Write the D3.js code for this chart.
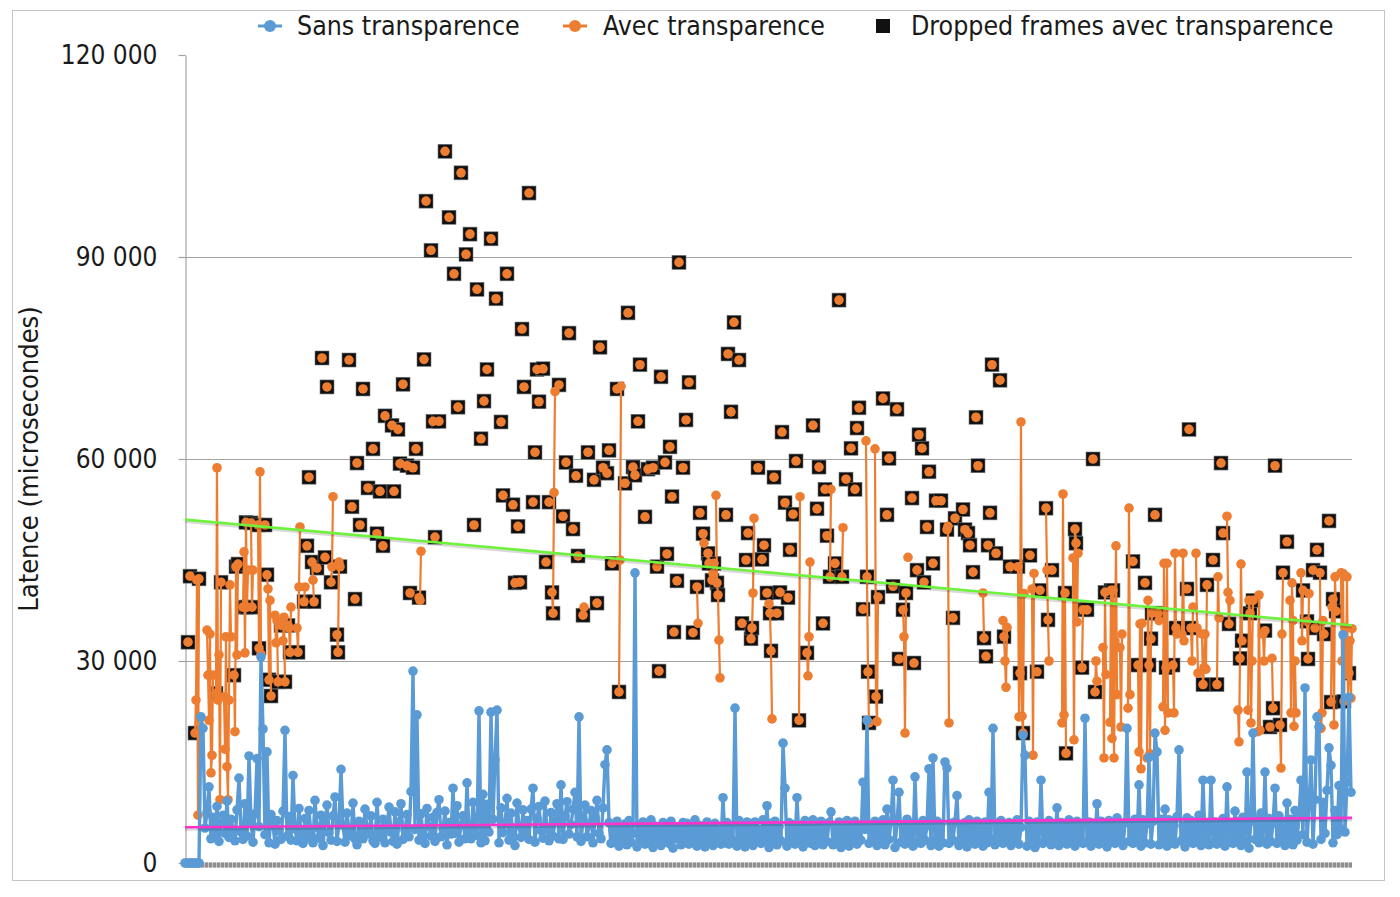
<!DOCTYPE html>
<html>
<head>
<meta charset="utf-8">
<script src="https://d3js.org/d3.v7.min.js"></script>
<style>
  body { margin: 0; background: #fff; }
  text { font-family: "DejaVu Sans Condensed", "DejaVu Sans", sans-serif; font-stretch: condensed; fill: #1a1a1a; }
</style>
</head>
<body>
<script>
// latency values are in milliseconds (x 1000 = microseconds)
var frameCount = 1167;

// "Sans transparence": one sample every 2 frames
var sansTransparence = [
  0,0,0,0,0,0,0,0,21.7,20.0,5.2,7.5,11.3,3.6,6.8,4.1,8.4,3.2,5.9,7.1,
  4.4,9.2,3.8,6.5,5.0,3.3,7.9,12.6,4.6,3.5,8.8,4.0,15.9,6.2,3.1,7.3,15.5,5.4,30.6,19.9,
  4.2,16.5,3.0,7.2,5.6,2.8,6.3,4.8,3.5,7.7,19.7,4.0,6.9,3.4,13.0,5.1,3.3,8.1,4.5,2.9,
  6.6,3.7,7.8,4.2,3.0,9.3,5.3,3.7,7.1,2.6,6.0,8.6,4.5,3.4,7.0,9.8,3.2,5.8,13.9,5.6,
  3.1,7.4,4.9,4.0,8.9,3.6,2.7,6.2,4.4,3.6,8.0,5.2,4.3,7.0,3.3,2.9,9.0,4.7,3.8,6.5,
  3.0,5.5,8.3,4.6,3.2,7.6,2.8,6.1,8.8,3.5,4.9,7.2,3.9,10.6,28.5,5.0,22.0,3.4,7.3,4.1,
  2.9,8.1,5.4,4.0,6.8,3.2,7.5,9.4,3.9,5.1,7.7,2.7,6.0,4.3,11.1,4.4,8.5,3.1,5.6,7.0,
  3.6,11.9,4.8,3.6,9.0,5.3,4.1,22.6,3.0,10.2,3.3,8.7,4.6,22.4,6.5,15.3,22.7,3.0,8.2,4.5,
  5.8,9.6,3.4,7.4,4.0,2.6,8.9,5.5,3.8,7.9,4.2,6.3,3.5,8.0,11.1,3.1,6.6,8.4,4.8,3.7,
  9.2,5.0,3.3,7.5,4.0,6.2,8.8,3.6,11.6,3.5,7.0,9.1,4.3,5.7,8.0,10.5,3.9,21.7,3.2,6.4,
  8.6,3.9,5.5,7.8,3.0,6.7,9.3,4.4,3.6,8.2,14.6,16.8,
  6.0,2.9,5.4,3.3,6.2,2.5,5.0,3.6,5.8,2.7,6.3,3.1,4.4,43.1,2.4,5.7,3.4,6.1,2.8,5.2,
  3.0,6.4,2.3,5.5,3.5,4.9,2.6,6.0,3.2,5.5,2.9,6.2,2.2,5.3,3.6,5.1,2.7,6.0,3.0,5.9,
  2.8,5.4,3.3,6.4,2.5,5.6,3.1,5.3,2.4,6.1,3.4,5.6,2.6,5.9,3.2,5.0,2.8,9.7,3.0,6.0,
  2.8,5.5,3.3,23.0,2.5,6.3,3.1,5.3,2.4,6.1,3.4,5.6,2.6,6.1,3.2,5.0,2.9,6.4,3.5,8.5,
  2.3,5.9,3.0,6.2,2.7,5.4,3.3,17.8,11.1,2.5,6.0,3.1,5.7,2.8,9.7,3.4,5.2,2.4,6.3,3.0,
  5.8,2.9,6.4,2.6,5.5,3.6,6.2,2.7,5.8,3.2,6.0,7.6,2.7,5.5,3.5,6.1,2.3,5.9,3.0,6.3,
  2.5,5.6,3.1,6.2,2.8,5.3,3.4,12.0,5.0,21.2,2.9,5.5,3.6,6.2,2.6,5.8,3.2,6.4,2.7,8.0,
  3.5,6.1,12.3,2.3,6.0,10.5,3.1,5.6,2.8,6.5,3.3,5.9,2.5,12.8,3.0,5.7,2.9,6.3,3.4,5.5,
  14.0,2.6,15.6,3.3,6.2,2.5,5.8,3.0,15.0,14.1,2.9,5.9,3.4,6.1,10.0,2.6,5.6,3.2,6.0,2.4,
  6.4,3.1,5.8,2.8,6.2,3.3,5.4,2.5,6.1,3.0,10.5,3.6,20.0,2.7,5.9,3.2,6.3,2.9,5.5,3.4,
  6.0,2.6,5.7,3.1,6.4,2.8,5.3,19.0,16.0,2.5,6.2,3.5,5.6,2.3,6.1,3.0,12.3,2.9,5.8,3.4,
  6.3,2.7,5.5,3.2,8.2,2.6,6.0,3.4,5.6,2.8,6.4,3.1,5.9,2.5,6.2,3.3,5.4,2.9,21.5,3.2,
  6.1,2.5,5.9,3.3,8.8,2.8,6.2,3.6,5.3,2.4,6.3,3.1,5.7,2.9,6.7,3.5,5.6,2.6,6.0,20.0,
  3.2,5.8,2.9,6.5,3.4,11.6,2.5,6.4,3.0,5.8,15.7,2.8,6.2,19.3,16.5,2.7,6.5,3.4,8.0,2.5,
  6.4,3.0,5.8,2.8,6.9,16.8,3.3,5.5,2.4,6.7,3.6,6.3,2.9,5.7,3.1,7.1,2.6,12.3,3.5,5.9,
  2.7,12.3,3.0,6.1,2.8,5.9,3.4,6.6,2.5,11.3,3.2,5.9,2.9,7.7,3.6,6.2,2.6,6.8,3.1,13.5,
  2.2,6.2,19.3,3.5,6.5,3.0,7.4,3.3,13.5,2.8,6.6,3.2,5.9,11.1,2.9,7.0,3.6,6.2,2.6,8.9,
  3.1,6.5,2.7,7.8,3.4,6.9,12.3,4.2,26.0,3.1,8.6,15.3,2.8,9.4,21.7,20.2,3.5,9.0,4.4,10.8,
  17.1,14.5,3.0,7.8,4.2,11.5,5.0,33.9,4.6,12.0,24.6,10.5
];
var sansStep = 2;

// "Avec transparence": [frame, latency ms, dropped frame 1/0]
var avecTransparence = [
  [3,32.8,1],[5,42.6,1],
  [10,19.3,1],[11,24.2,0],[12,42.0,0],[13,7.1,0],[14,42.2,1],
  [22,34.6,0],[23,27.9,0],[24,21.2,0],[25,34.0,0],[26,13.4,0],[27,16.0,0],[28,27.9,0],
  [31,25.2,1],[32,58.7,0],[33,24.2,0],[34,30.9,0],[35,9.4,0],[36,41.7,1],
  [39,24.7,0],[40,16.9,0],[41,33.6,0],[42,14.3,0],[43,9.4,0],[44,24.2,0],[45,41.3,0],[46,33.6,0],
  [49,27.9,1],[50,19.5,0],[51,44.0,1],[52,30.9,0],[53,44.4,1],
  [58,38.0,1],[59,46.2,0],[60,31.2,0],[61,50.6,1],[62,38.0,1],[63,43.5,0],
  [66,50.5,1],[67,38.0,1],[68,43.5,0],
  [73,50.2,1],[74,31.9,1],[75,58.1,0],[76,31.0,0],
  [80,50.2,1],
  [82,42.8,1],[83,40.7,0],[84,27.2,1],[85,39.0,0],[86,24.8,1],
  [90,36.8,0],[91,32.7,0],[92,36.0,0],[93,26.9,1],
  [96,35.3,1],
  [98,33.0,0],[99,36.5,0],[100,26.9,1],
  [103,35.3,1],[104,34.9,0],[105,31.3,1],[106,38.0,0],
  [112,34.9,0],[113,31.3,1],[114,41.0,0],[115,49.9,0],
  [119,38.8,1],[120,41.0,0],
  [122,47.1,1],[124,57.3,1],
  [127,44.7,1],[128,42.0,0],[129,38.8,1],
  [132,43.8,1],[137,75.0,1],[140,45.4,1],[142,70.7,1],
  [146,41.7,1],[147,44.0,0],[148,54.4,0],
  [152,33.9,1],[153,31.3,1],[154,44.7,0],[155,44.0,1],
  [164,74.7,1],[167,52.9,1],[170,39.2,1],[172,59.4,1],[175,50.2,1],[178,70.4,1],[183,55.7,1],
  [188,61.5,1],[192,48.9,1],[195,55.2,1],[198,47.1,1],[200,66.4,1],[207,65.0,1],[209,55.2,1],
  [213,64.4,1],[215,59.3,1],[218,71.1,1],[222,59.0,1],[225,40.1,1],[228,58.7,1],[231,61.5,1],
  [234,39.4,1],[235,39.0,0],[236,46.3,0],
  [239,74.8,1],[241,98.3,1],[246,91.0,1],[248,65.6,1],[250,48.4,1],[254,65.6,1],[260,105.7,1],
  [264,95.9,1],[269,87.5,1],[273,67.7,1],[276,102.5,1],[281,90.4,1],[285,93.4,1],[289,50.2,1],
  [292,85.2,1],[296,63.0,1],[299,68.6,1],[302,73.3,1],[306,92.7,1],[311,83.8,1],[316,65.5,1],
  [318,54.6,1],[322,87.5,1],[328,53.2,1],[330,41.6,1],[333,50.0,1],[335,41.7,1],[337,79.3,1],
  [339,70.7,1],[344,99.5,1],[348,53.6,1],[350,61.0,1],[352,73.3,1],[354,68.5,1],[358,73.4,1],
  [361,44.7,1],[364,53.6,1],
  [367,40.2,1],[368,37.1,1],[369,55.0,0],[370,70.0,0],
  [374,71.0,1],[378,51.5,1],[381,59.5,1],[384,78.7,1],[388,49.6,1],[391,57.5,1],[393,45.6,1],
  [398,36.8,1],[399,38.0,0],
  [403,61.0,1],[409,56.9,1],[412,38.6,1],[415,76.6,1],[418,58.7,1],[422,57.9,1],[424,61.3,1],
  [427,44.5,1],[432,70.4,1],
  [434,25.4,1],[435,45.0,0],[436,70.8,0],
  [440,56.4,1],[443,81.7,1],[448,58.8,1],[450,57.6,1],[453,65.6,1],[455,74.0,1],[460,51.4,1],
  [463,58.5,1],[468,58.7,1],[472,44.0,1],[474,28.5,1],[476,72.2,1],[480,59.5,1],[482,45.9,1],
  [485,61.8,1],[487,54.4,1],[489,34.3,1],[492,41.9,1],[494,89.2,1],[498,58.7,1],[501,65.8,1],
  [504,71.4,1],[508,34.2,1],
  [512,41.0,1],[513,35.6,0],
  [515,52.0,1],
  [518,48.9,1],[519,47.5,0],
  [523,46.0,1],[524,44.5,1],
  [527,42.0,1],[528,43.0,0],[529,44.5,1],
  [531,54.6,0],[532,41.6,1],[533,39.8,1],[534,33.1,0],[535,27.5,0],
  [541,51.7,1],[543,75.6,1],[546,67.0,1],[549,80.3,1],[554,74.7,1],[557,35.6,1],[561,45.0,1],
  [563,49.0,1],
  [566,33.3,1],[567,34.9,1],[568,40.1,0],[569,51.2,0],
  [573,58.7,1],[577,45.1,1],[579,47.2,1],[582,40.1,1],
  [584,38.5,0],[585,37.1,1],[586,31.5,1],[587,21.4,0],
  [589,57.3,1],[592,37.1,1],[595,40.2,1],[597,64.0,1],[600,53.5,1],[603,39.4,1],[605,46.5,1],
  [608,51.8,1],[611,59.7,1],
  [614,21.2,1],[615,54.4,0],
  [622,31.2,1],[623,27.8,0],[624,33.6,0],[625,44.7,0],
  [628,65.0,1],[632,52.6,1],[634,58.8,1],[638,35.6,1],[640,55.5,1],[642,48.6,1],
  [645,42.5,1],[646,55.5,0],
  [650,44.5,1],[654,83.6,1],
  [657,42.5,1],[658,49.8,0],
  [661,57.0,1],[666,61.6,1],[670,55.5,1],[672,64.6,1],[674,67.6,1],[678,37.7,1],
  [681,62.7,0],[682,42.5,1],[683,28.4,1],[684,20.8,1],
  [690,61.5,0],[691,24.7,1],[692,21.0,0],[693,39.5,1],
  [698,69.0,1],[702,51.7,1],[704,60.1,1],[708,41.1,1],[712,67.4,1],[714,30.3,1],
  [718,37.6,1],[719,33.6,0],[720,19.3,0],[721,40.1,1],
  [723,45.4,0],
  [727,54.2,1],[729,29.7,1],[732,43.5,1],[734,63.6,1],[737,61.6,1],[739,41.7,1],[742,49.9,1],
  [744,58.1,1],[748,44.5,1],[751,53.8,1],[756,53.8,1],
  [762,49.5,1],[763,50.0,0],[764,20.8,0],
  [768,36.4,1],[770,51.2,1],[778,52.5,1],[780,49.5,1],[783,49.0,1],[785,47.2,1],[788,43.2,1],
  [791,66.2,1],[793,59.0,1],
  [798,40.1,0],[799,33.4,1],
  [801,30.7,1],[803,47.2,1],[805,52.0,1],[807,74.0,1],[811,46.0,1],[815,71.7,1],
  [818,36.0,0],[819,33.6,1],[820,30.0,0],[821,26.1,0],[822,35.0,0],
  [825,44.0,1],
  [833,44.0,1],[834,21.7,0],[835,28.2,1],[836,65.5,0],[837,21.8,0],[838,19.3,1],[839,40.0,0],
  [845,45.7,1],
  [847,40.7,0],[848,16.0,0],[849,43.0,0],
  [852,28.4,1],[855,40.5,1],
  [861,52.7,1],[862,43.5,0],[863,36.1,1],[864,30.0,0],
  [867,43.5,1],
  [877,20.8,0],[878,54.8,0],[879,22.0,0],[880,40.1,1],[881,16.3,1],
  [888,45.3,0],[889,18.3,0],[890,49.6,1],[891,47.5,1],[892,35.8,0],[893,46.0,0],
  [897,29.0,1],[898,37.6,1],
  [902,37.6,1],[908,60.0,1],
  [910,25.4,1],[911,30.0,0],[912,27.0,0],
  [918,32.0,0],[919,15.6,0],[920,40.2,1],[921,28.0,0],
  [925,20.9,0],[926,40.5,1],[927,18.5,0],[928,40.5,1],[929,15.6,0],[930,33.0,0],[931,47.1,0],[932,25.0,0],
  [935,32.0,0],[936,20.2,0],[937,34.0,0],
  [943,23.0,0],[944,52.7,0],[945,25.0,0],
  [948,44.8,1],
  [953,29.4,1],[954,16.5,0],[955,35.5,0],[956,14.0,0],[957,35.6,0],
  [960,41.6,1],
  [962,15.6,0],[963,39.0,0],[964,29.4,1],[965,16.2,0],[966,33.3,1],[967,37.1,1],
  [970,51.7,1],
  [973,37.1,1],[974,36.0,0],
  [978,23.2,0],[979,44.5,0],[980,19.7,0],[981,29.0,1],[982,44.5,0],[983,22.3,0],
  [988,29.4,1],[989,22.3,0],[990,46.0,0],[991,34.9,1],[992,34.0,0],
  [997,34.0,0],[998,46.0,0],[999,33.0,0],
  [1002,40.7,1],[1004,64.4,1],
  [1006,34.9,1],[1007,30.0,0],[1008,38.0,0],
  [1011,46.0,0],[1012,34.9,0],[1013,28.2,0],
  [1017,34.0,0],[1018,26.5,1],[1019,29.0,0],[1020,34.0,0],[1021,28.8,0],[1022,41.3,1],
  [1028,45.0,1],
  [1032,26.5,1],[1033,42.5,0],[1034,36.4,0],
  [1036,59.4,1],[1038,49.0,1],
  [1042,51.5,0],[1043,40.2,0],[1044,35.5,1],[1045,39.0,0],
  [1053,22.7,0],[1054,18.0,0],[1055,30.4,1],[1056,44.4,0],[1057,33.0,1],
  [1063,22.7,0],[1064,39.0,0],[1065,37.1,1],[1066,20.8,0],[1067,30.0,0],[1068,39.0,1],
  [1073,19.5,0],[1074,39.8,0],[1075,19.7,0],
  [1078,34.0,0],[1079,30.0,0],[1080,34.5,1],
  [1085,20.2,1],
  [1087,30.4,0],[1088,23.0,1],
  [1090,59.0,1],
  [1095,20.5,1],[1096,14.1,0],[1097,34.0,0],[1098,43.1,1],
  [1102,47.7,1],
  [1105,39.0,0],[1106,22.3,0],[1107,41.6,0],[1108,36.0,0],[1109,20.3,0],[1110,30.0,0],[1111,22.3,0],
  [1116,43.1,0],[1117,33.0,0],[1118,40.5,1],
  [1122,35.9,1],[1123,30.3,1],[1124,40.0,0],
  [1128,43.5,1],[1130,34.9,1],[1132,46.5,1],
  [1135,43.1,1],[1136,20.0,0],[1137,22.3,0],[1138,36.0,0],[1139,34.0,1],
  [1144,50.8,1],
  [1146,23.9,1],[1147,38.0,0],[1148,39.2,1],[1149,20.5,0],[1150,42.5,0],[1151,37.4,1],
  [1156,43.1,0],[1157,30.0,0],[1158,43.0,0],[1159,24.0,1],[1160,35.0,0],[1161,28.0,0],
  [1162,42.5,0],[1163,24.5,0],[1164,28.2,1],[1165,33.0,0],[1166,24.5,0],[1167,34.8,0]
];

// linear trend lines, value at first and last frame (µs)
var trendSans = [5300, 6700];
var trendAvec = [51000, 35300];

var yTicks = [0, 30000, 60000, 90000, 120000];
var legendLabels = ["Sans transparence", "Avec transparence", "Dropped frames avec transparence"];
var yTitle = "Latence (microsecondes)";

var blue = "#5b9bd5", orange = "#ed7d31";

var width = 1400, height = 897;
var svg = d3.select("body").append("svg")
    .attr("width", width)
    .attr("height", height);

svg.append("rect").attr("width", width).attr("height", height).attr("fill", "#fff");
svg.append("rect")
    .attr("x", 12.5).attr("y", 10.5).attr("width", 1372).attr("height", 870)
    .attr("fill", "none").attr("stroke", "#c4c4c4");

var x = d3.scaleLinear().domain([0, frameCount]).range([185, 1352]);
var y = d3.scaleLinear().domain([0, 120000]).range([863, 55]);

var fr = d3.formatLocale({decimal: ",", thousands: " ", grouping: [3], currency: ["", ""]});
var fmt = fr.format(",");

// gridlines
svg.append("g").selectAll("line")
    .data(yTicks.filter(function (t) { return t > 0 && t < 120000; }))
    .enter().append("line")
    .attr("x1", x(0)).attr("x2", x(frameCount))
    .attr("y1", function (d) { return Math.round(y(d)) + 0.5; })
    .attr("y2", function (d) { return Math.round(y(d)) + 0.5; })
    .attr("stroke", "#a3a3a3").attr("stroke-width", 1.2);

// y axis
var yAxis = svg.append("g")
    .attr("transform", "translate(" + (x(0) + 0.5) + ",0)")
    .call(d3.axisLeft(y).tickValues(yTicks).tickSize(7).tickSizeOuter(0).tickPadding(21).tickFormat(fmt));
yAxis.select(".domain").attr("stroke", "#a3a3a3").attr("stroke-width", 1.2);
yAxis.selectAll(".tick line").attr("stroke", "#a3a3a3").attr("stroke-width", 1.2);
yAxis.selectAll(".tick text")
    .style("font-family", '"DejaVu Sans Condensed", "DejaVu Sans", sans-serif')
    .style("font-size", "26px").attr("fill", "#1a1a1a");

// category axis along zero: dense tick marks
svg.append("line")
    .attr("x1", x(0)).attr("x2", x(frameCount))
    .attr("y1", y(0) + 2).attr("y2", y(0) + 2)
    .attr("stroke", "#c8c8c8").attr("stroke-width", 5);
svg.append("line")
    .attr("x1", x(0)).attr("x2", x(frameCount))
    .attr("y1", y(0) + 2).attr("y2", y(0) + 2)
    .attr("stroke", "#8e8e8e").attr("stroke-width", 5).attr("stroke-dasharray", "3,1");

// y title
svg.append("text")
    .attr("transform", "translate(38," + 459 + ") rotate(-90)")
    .attr("text-anchor", "middle")
    .style("font-size", "27px")
    .text(yTitle);

// dropped frames (black squares under the orange markers)
var dropped = avecTransparence.filter(function (d) { return d[2] === 1; });
svg.append("g").selectAll("rect")
    .data(dropped).enter().append("rect")
    .attr("x", function (d) { return x(d[0]) - 7; })
    .attr("y", function (d) { return y(d[1] * 1000) - 7; })
    .attr("width", 14).attr("height", 14)
    .attr("fill", "#111").attr("stroke", "#777").attr("stroke-width", 0.6);

// orange series: lines only between consecutive frames
var runs = [];
avecTransparence.forEach(function (d, i) {
  var prev = avecTransparence[i - 1];
  if (prev && d[0] === prev[0] + 1) runs[runs.length - 1].push(d);
  else runs.push([d]);
});
var line = d3.line()
    .x(function (d) { return x(d[0]); })
    .y(function (d) { return y(d[1] * 1000); });
svg.append("g").selectAll("path")
    .data(runs.filter(function (r) { return r.length > 1; }))
    .enter().append("path")
    .attr("d", line)
    .attr("fill", "none").attr("stroke", orange).attr("stroke-width", 2.2)
    .attr("stroke-linejoin", "round");
svg.append("g").selectAll("circle")
    .data(avecTransparence).enter().append("circle")
    .attr("cx", function (d) { return x(d[0]); })
    .attr("cy", function (d) { return y(d[1] * 1000); })
    .attr("r", 4.8).attr("fill", orange);

// blue series
var sansPts = sansTransparence.map(function (v, i) { return [i * sansStep, v]; });
svg.append("path")
    .datum(sansPts)
    .attr("d", line)
    .attr("fill", "none").attr("stroke", blue).attr("stroke-width", 3.4)
    .attr("stroke-linejoin", "round");
svg.append("g").selectAll("circle")
    .data(sansPts).enter().append("circle")
    .attr("cx", function (d) { return x(d[0]); })
    .attr("cy", function (d) { return y(d[1] * 1000); })
    .attr("r", 4.8).attr("fill", blue);

// trend lines
function trend(vals, color) {
  svg.append("line")
      .attr("x1", x(0)).attr("x2", x(frameCount))
      .attr("y1", y(vals[0]) + 2).attr("y2", y(vals[1]) + 2)
      .attr("stroke", "#000").attr("stroke-opacity", 0.15).attr("stroke-width", 3);
  svg.append("line")
      .attr("x1", x(0)).attr("x2", x(frameCount))
      .attr("y1", y(vals[0])).attr("y2", y(vals[1]))
      .attr("stroke", color).attr("stroke-width", 2.6);
}
trend(trendAvec, "#6ef23c");
trend(trendSans, "#ff33cc");

// legend
var legend = svg.append("g");
var lx = [270, 575, 883];
var tx = [297, 603, 911];
[blue, orange].forEach(function (c, i) {
  legend.append("line")
      .attr("x1", lx[i] - 12).attr("x2", lx[i] + 12)
      .attr("y1", 26).attr("y2", 26)
      .attr("stroke", c).attr("stroke-width", 3);
  legend.append("circle")
      .attr("cx", lx[i]).attr("cy", 26).attr("r", 6).attr("fill", c);
});
legend.append("rect")
    .attr("x", lx[2] - 7).attr("y", 19).attr("width", 14).attr("height", 14).attr("fill", "#111");
legendLabels.forEach(function (t, i) {
  legend.append("text")
      .attr("x", tx[i]).attr("y", 35)
      .style("font-size", "26.5px")
      .text(t);
});
</script>
</body>
</html>
